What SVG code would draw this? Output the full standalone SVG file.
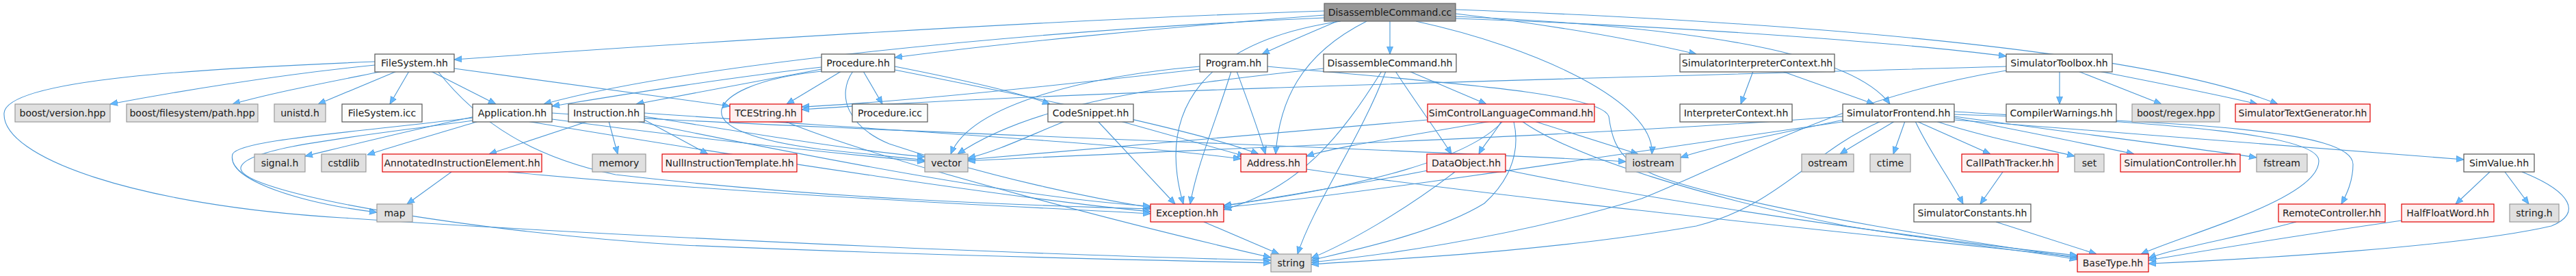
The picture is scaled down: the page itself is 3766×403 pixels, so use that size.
<svg xmlns="http://www.w3.org/2000/svg" width="3766" height="403" viewBox="0 0 3766 403">
<defs>
<marker id="ah" viewBox="0 0 12 10" markerWidth="12" markerHeight="10" refX="11" refY="5" orient="auto" markerUnits="userSpaceOnUse">
<path d="M0,0.5 L11,5 L0,9.5 z" fill="#63b8ff" stroke="#4a97d6" stroke-width="0.8"/>
</marker>
</defs>
<style>
.e path{fill:none;stroke:#4a97d6;stroke-width:1.1;marker-end:url(#ah)}
.w rect{fill:#fbfcfb;stroke:#555555;stroke-width:1.2}
.g rect{fill:#e0e0e0;stroke:#999999;stroke-width:1.2}
.r rect{fill:#fff0f0;stroke:#e00000;stroke-width:1.2}
.root rect{fill:#999999;stroke:#666666;stroke-width:1.2}
text{font-family:"DejaVu Sans","Liberation Sans",sans-serif;font-size:14px;fill:#1a1a1a;text-anchor:middle}
</style>
<rect width="3766" height="403" fill="#ffffff"/>
<g class="e" id="edges">
<!-- root -->
<path d="M2032,31 L2032,79"/>
<path d="M1936,16 C1500,30 900,70 664,87"/>
<path d="M1936,22 C1700,40 1450,65 1308,84"/>
<path d="M1955,31 C1910,50 1875,65 1845,79"/>
<path d="M1936,26 C1500,45 1000,95 795,152"/>
<path d="M1998,31 C1900,80 1870,150 1865,225"/>
<path d="M1960,31 C1760,60 1690,160 1730,298"/>
<path d="M2070,31 C2250,70 2420,150 2415,225"/>
<path d="M2128,20 C2300,40 2420,65 2480,79"/>
<path d="M2128,24 C2500,40 2710,80 2763,152"/>
<path d="M2128,27 C2500,40 2800,65 2933,82"/>
<path d="M2128,14 C2700,35 3150,80 3330,152"/>
<!-- FileSystem.hh -->
<path d="M548,95 C400,110 250,135 161,152"/>
<path d="M560,104 C480,120 400,135 340,152"/>
<path d="M580,104 L465,152"/>
<path d="M598,104 L570,152"/>
<path d="M630,104 L725,152"/>
<path d="M548,90 C300,100 10,115 6,165 C2,230 200,300 500,318 C900,345 1500,372 1858,380"/>
<path d="M640,104 C700,180 780,230 900,255 C1200,290 1500,300 1682,305"/>
<path d="M664,100 C850,125 1000,145 1067,155"/>
<!-- Procedure.hh -->
<path d="M1230,104 L1150,152"/>
<path d="M1262,104 L1290,152"/>
<path d="M1308,97 C1400,115 1490,135 1535,152"/>
<path d="M1308,102 C1500,140 1750,190 1840,225"/>
<path d="M1201,104 C1100,115 1060,140 1055,160 C1050,185 1100,205 1200,218 C1280,226 1320,230 1352,234"/>
<path d="M1247,104 C1222,140 1240,185 1300,210 C1450,260 1600,290 1682,303"/>
<path d="M1201,98 C1050,115 900,140 807,155"/>
<path d="M1201,101 C1100,120 990,140 930,152"/>
<!-- Program.hh -->
<path d="M1808,104 C1825,150 1840,190 1850,225"/>
<path d="M1800,104 C1780,170 1750,240 1740,298"/>
<path d="M1754,97 C1600,110 1420,150 1390,225"/>
<path d="M1754,101 C1500,130 1300,150 1172,156"/>
<path d="M1853,97 C2100,120 2340,135 2352,170 C2360,230 2380,250 2500,280 C2700,330 2950,362 3037,377"/>
<!-- DisassembleCommand.hh -->
<path d="M2060,104 L2173,152"/>
<path d="M2040,104 C2070,150 2100,190 2122,225"/>
<path d="M2020,104 C1960,200 1900,275 1789,306"/>
<path d="M2026,104 C1990,200 1920,300 1897,371"/>
<path d="M1935,100 C1700,125 1510,150 1400,225"/>
<!-- SimControlLanguageCommand.hh -->
<path d="M2195,177 C2185,195 2170,210 2162,225"/>
<path d="M2243,177 L2395,225"/>
<path d="M2197,177 C2150,230 2000,272 1789,300"/>
<path d="M2213,177 C2225,230 2200,270 2170,297 C2100,340 1980,365 1917,380"/>
<path d="M2087,175 C1800,200 1550,220 1415,233"/>
<path d="M2180,177 C2050,200 1950,215 1910,228"/>
<path d="M2225,177 C2300,230 2500,290 2700,330 C2850,355 2980,368 3037,379"/>
<!-- SimulatorInterpreterContext.hh -->
<path d="M2563,104 L2545,152"/>
<path d="M2605,104 L2740,152"/>
<!-- SimulatorToolbox.hh -->
<path d="M3011,104 L3011,152"/>
<path d="M3038,104 L3160,152"/>
<path d="M3068,104 C3150,120 3250,140 3300,152"/>
<path d="M2933,97 C2500,110 1600,130 1172,160"/>
<path d="M2933,103 C2700,140 2550,230 2400,290 C2200,350 2000,375 1917,383"/>
<!-- SimulatorFrontend.hh -->
<path d="M2770,177 C2740,195 2710,212 2690,225"/>
<path d="M2785,177 L2768,225"/>
<path d="M2830,177 C2900,200 2980,215 3033,228"/>
<path d="M2802,177 L2910,225"/>
<path d="M2800,177 C2820,220 2850,260 2870,298"/>
<path d="M2857,172 C2950,190 3050,210 3120,225"/>
<path d="M2857,170 C3000,190 3200,215 3299,230"/>
<path d="M2857,175 C3100,195 3400,215 3602,233"/>
<path d="M2857,167 C3200,178 3440,190 3440,240 C3440,265 3430,285 3423,298"/>
<path d="M2857,163 C3100,178 3390,190 3390,235 C3390,290 3200,340 3130,371"/>
<path d="M2700,177 C2400,220 2000,282 1789,303"/>
<path d="M2750,177 C2650,220 2600,300 2480,330 C2250,370 2000,380 1917,386"/>
<path d="M2700,174 C2600,195 2500,215 2457,230"/>
<path d="M2694,170 C2300,200 1800,215 1415,235"/>
<!-- Application.hh -->
<path d="M695,170 C600,190 500,215 446,228"/>
<path d="M700,177 C640,195 570,215 537,226"/>
<path d="M691,172 C500,195 350,205 340,225 C330,265 450,298 551,310"/>
<path d="M691,176 C520,200 357,215 352,245 C347,282 700,340 1000,358 C1400,375 1700,380 1858,384"/>
<path d="M807,165 C1200,190 2000,215 2377,236"/>
<path d="M807,174 C1000,200 1200,222 1352,236"/>
<path d="M770,177 C1100,232 1500,292 1682,309"/>
<!-- Instruction.hh -->
<path d="M860,177 L715,225"/>
<path d="M890,177 L903,225"/>
<path d="M942,175 L1035,225"/>
<path d="M942,170 C1100,195 1250,220 1352,229"/>
<path d="M930,177 C1200,232 1500,290 1682,301"/>
<path d="M942,165 C1300,190 1650,210 1814,232"/>
<!-- AnnotatedInstructionElement.hh -->
<path d="M660,251 L595,298"/>
<path d="M743,251 C1100,285 1500,302 1682,312"/>
<!-- TCEString.hh -->
<path d="M1147,177 C1300,240 1700,340 1858,376"/>
<!-- CodeSnippet.hh -->
<path d="M1557,177 C1500,200 1460,220 1415,231"/>
<path d="M1638,177 L1820,228"/>
<path d="M1605,177 L1718,298"/>
<!-- Address.hh / DataObject.hh -->
<path d="M1910,247 C2200,290 2800,350 3037,375"/>
<path d="M2127,251 C2050,310 1970,355 1917,377"/>
<path d="M2087,249 C1980,270 1850,290 1789,301"/>
<path d="M2201,248 C2400,290 2800,348 3037,373"/>
<!-- Exception.hh -->
<path d="M1760,324 L1870,371"/>
<!-- lower right -->
<path d="M2928,251 L2895,298"/>
<path d="M2918,324 L3065,371"/>
<path d="M3357,324 C3280,345 3180,362 3141,377"/>
<path d="M3511,322 C3350,345 3200,370 3141,380"/>
<path d="M3640,251 L3590,298"/>
<path d="M3662,251 L3697,298"/>
<path d="M3687,251 C3760,280 3775,312 3730,330 C3600,360 3300,378 3141,385"/>
</g>
<g id="n0" class="root"><rect x="1936" y="5" width="192" height="26"/><text x="2032" y="23">DisassembleCommand.cc</text></g>
<g id="n1" class="w"><rect x="548" y="79" width="116" height="26"/><text x="606" y="97">FileSystem.hh</text></g>
<g id="n2" class="w"><rect x="1201" y="79" width="107" height="26"/><text x="1254.5" y="97">Procedure.hh</text></g>
<g id="n3" class="w"><rect x="1754" y="79" width="99" height="26"/><text x="1803.5" y="97">Program.hh</text></g>
<g id="n4" class="w"><rect x="1935" y="79" width="194" height="26"/><text x="2032" y="97">DisassembleCommand.hh</text></g>
<g id="n5" class="w"><rect x="2456" y="79" width="226" height="26"/><text x="2569" y="97">SimulatorInterpreterContext.hh</text></g>
<g id="n6" class="w"><rect x="2933" y="79" width="155" height="26"/><text x="3010.5" y="97">SimulatorToolbox.hh</text></g>
<g id="n7" class="g"><rect x="22" y="152" width="139" height="26"/><text x="91.5" y="170">boost/version.hpp</text></g>
<g id="n8" class="g"><rect x="185" y="152" width="192" height="26"/><text x="281" y="170">boost/filesystem/path.hpp</text></g>
<g id="n9" class="g"><rect x="401" y="152" width="75" height="26"/><text x="438.5" y="170">unistd.h</text></g>
<g id="n10" class="w"><rect x="500" y="152" width="117" height="26"/><text x="558.5" y="170">FileSystem.icc</text></g>
<g id="n11" class="w"><rect x="691" y="152" width="116" height="26"/><text x="749" y="170">Application.hh</text></g>
<g id="n12" class="w"><rect x="831" y="152" width="111" height="26"/><text x="886.5" y="170">Instruction.hh</text></g>
<g id="n13" class="r"><rect x="1067" y="152" width="105" height="26"/><text x="1119.5" y="170">TCEString.hh</text></g>
<g id="n14" class="w"><rect x="1246" y="152" width="110" height="26"/><text x="1301" y="170">Procedure.icc</text></g>
<g id="n15" class="w"><rect x="1532" y="152" width="125" height="26"/><text x="1594.5" y="170">CodeSnippet.hh</text></g>
<g id="n16" class="r"><rect x="2087" y="152" width="244" height="26"/><text x="2209" y="170">SimControlLanguageCommand.hh</text></g>
<g id="n17" class="w"><rect x="2456" y="152" width="164" height="26"/><text x="2538" y="170">InterpreterContext.hh</text></g>
<g id="n18" class="w"><rect x="2694" y="152" width="163" height="26"/><text x="2775.5" y="170">SimulatorFrontend.hh</text></g>
<g id="n19" class="w"><rect x="2933" y="152" width="161" height="26"/><text x="3013.5" y="170">CompilerWarnings.hh</text></g>
<g id="n20" class="g"><rect x="3117" y="152" width="128" height="26"/><text x="3181" y="170">boost/regex.hpp</text></g>
<g id="n21" class="r"><rect x="3268" y="152" width="197" height="26"/><text x="3366.5" y="170">SimulatorTextGenerator.hh</text></g>
<g id="n22" class="g"><rect x="372" y="225" width="74" height="26"/><text x="409" y="243">signal.h</text></g>
<g id="n23" class="g"><rect x="470" y="225" width="65" height="26"/><text x="502.5" y="243">cstdlib</text></g>
<g id="n24" class="r"><rect x="559" y="225" width="233" height="26"/><text x="675.5" y="243">AnnotatedInstructionElement.hh</text></g>
<g id="n25" class="g"><rect x="866" y="225" width="78" height="26"/><text x="905" y="243">memory</text></g>
<g id="n26" class="r"><rect x="968" y="225" width="197" height="26"/><text x="1066.5" y="243">NullInstructionTemplate.hh</text></g>
<g id="n27" class="g"><rect x="1352" y="225" width="63" height="26"/><text x="1383.5" y="243">vector</text></g>
<g id="n28" class="r"><rect x="1814" y="225" width="96" height="26"/><text x="1862" y="243">Address.hh</text></g>
<g id="n29" class="r"><rect x="2086" y="225" width="115" height="26"/><text x="2143.5" y="243">DataObject.hh</text></g>
<g id="n30" class="g"><rect x="2377" y="225" width="80" height="26"/><text x="2417" y="243">iostream</text></g>
<g id="n31" class="g"><rect x="2634" y="225" width="76" height="26"/><text x="2672" y="243">ostream</text></g>
<g id="n32" class="g"><rect x="2734" y="225" width="59" height="26"/><text x="2763.5" y="243">ctime</text></g>
<g id="n33" class="r"><rect x="2868" y="225" width="141" height="26"/><text x="2938.5" y="243">CallPathTracker.hh</text></g>
<g id="n34" class="g"><rect x="3033" y="225" width="43" height="26"/><text x="3054.5" y="243">set</text></g>
<g id="n35" class="r"><rect x="3100" y="225" width="175" height="26"/><text x="3187.5" y="243">SimulationController.hh</text></g>
<g id="n36" class="g"><rect x="3299" y="225" width="74" height="26"/><text x="3336" y="243">fstream</text></g>
<g id="n37" class="w"><rect x="3602" y="225" width="103" height="26"/><text x="3653.5" y="243">SimValue.hh</text></g>
<g id="n38" class="g"><rect x="551" y="298" width="52" height="26"/><text x="577" y="316">map</text></g>
<g id="n39" class="r"><rect x="1682" y="298" width="107" height="26"/><text x="1735.5" y="316">Exception.hh</text></g>
<g id="n40" class="w"><rect x="2798" y="298" width="171" height="26"/><text x="2883.5" y="316">SimulatorConstants.hh</text></g>
<g id="n41" class="r"><rect x="3331" y="298" width="156" height="26"/><text x="3409" y="316">RemoteController.hh</text></g>
<g id="n42" class="r"><rect x="3511" y="298" width="135" height="26"/><text x="3578.5" y="316">HalfFloatWord.hh</text></g>
<g id="n43" class="g"><rect x="3669" y="298" width="72" height="26"/><text x="3705" y="316">string.h</text></g>
<g id="n44" class="g"><rect x="1858" y="371" width="59" height="26"/><text x="1887.5" y="389">string</text></g>
<g id="n45" class="r"><rect x="3037" y="371" width="104" height="26"/><text x="3089" y="389">BaseType.hh</text></g>
</svg>
